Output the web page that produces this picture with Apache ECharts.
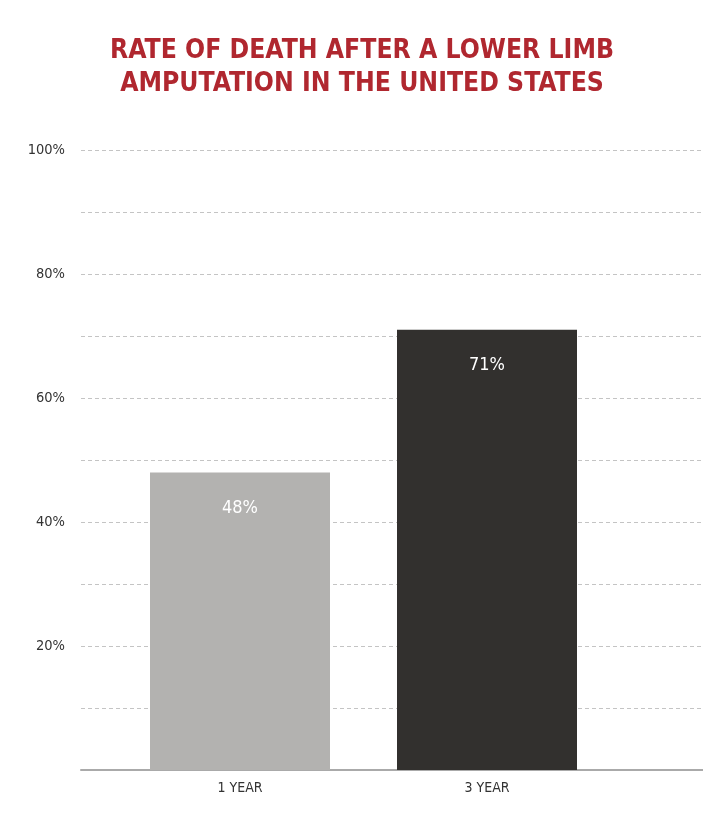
<!DOCTYPE html>
<html><head><meta charset="utf-8">
<script src="https://cdn.jsdelivr.net/npm/echarts@6/dist/echarts.min.js"></script>
<style>html,body{margin:0;padding:0;background:#fff}#c{width:703px;height:833px}</style>
</head><body><div id="c"></div>
<script>
const categories = ['1 YEAR', '3 YEAR'];
const values = [48, 71];
const barColors = ['#b3b2b0', '#32302e'];
const tickLabels = ['0%', '10%', '20%', '30%', '40%', '50%', '60%', '70%', '80%', '90%', '100%'];

const chart = echarts.init(document.getElementById('c'));
const font = '"DejaVu Sans Condensed", "DejaVu Sans", sans-serif';
chart.setOption({
  animation: false,
  title: {
    text: 'RATE OF DEATH AFTER A LOWER LIMB\nAMPUTATION IN THE UNITED STATES',
    left: 357, top: 30, textAlign: 'center',
    textStyle: { color: '#b0272f', fontFamily: font, fontWeight: 'bold', fontSize: 26.3, lineHeight: 33 }
  },
  grid: [
    { left: 81, right: 0, top: 150, bottom: 63 },
    { left: 116.5, right: 92.5, top: 150, bottom: 63 }
  ],
  xAxis: [
    { gridIndex: 0, type: 'value', min: 0, max: 1, show: true,
      axisLine: { show: true, lineStyle: { color: '#aaaaaa', width: 2 } },
      axisTick: { show: false }, axisLabel: { show: false }, splitLine: { show: false } },
    { gridIndex: 1, type: 'category', data: categories,
      axisLine: { show: false }, axisTick: { show: false },
      axisLabel: { color: '#333', fontFamily: font, fontSize: 14, margin: 11 } }
  ],
  yAxis: [
    { gridIndex: 0, type: 'value', min: 0, max: 100, interval: 10,
      axisLine: { show: false }, axisTick: { show: false },
      axisLabel: { color: '#333', fontFamily: font, fontSize: 14.5, margin: 16,
        formatter: (v) => (v % 20 === 0 && v > 0) ? tickLabels[v / 10] : '' },
      splitLine: { show: true, lineStyle: { color: '#c4c4c4', type: [4, 3], width: 1 } } },
    { gridIndex: 1, type: 'value', min: 0, max: 100, show: false }
  ],
  series: [{
    type: 'bar', xAxisIndex: 1, yAxisIndex: 1, barWidth: 180,
    data: values.map((v, i) => ({ value: v, itemStyle: { color: barColors[i] } })),
    label: { show: true, position: 'insideTop', distance: 27, color: '#fff',
      fontFamily: font, fontSize: 18, formatter: (p) => p.value + '%' }
  }]
});
</script></body></html>
